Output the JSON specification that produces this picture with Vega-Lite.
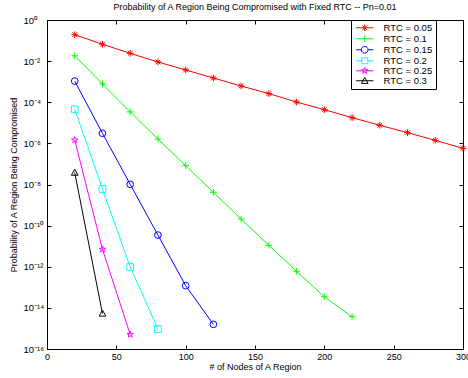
{
  "$schema": "https://vega.github.io/schema/vega-lite/v6.json",
  "width": 416,
  "height": 329,
  "autosize": {"type": "none"},
  "padding": {"left": 47, "top": 20, "right": 5, "bottom": 29},
  "title": {"text": "Probability of A Region Being Compromised with Fixed RTC -- Pn=0.01", "font": "Liberation Sans", "fontSize": 9, "fontWeight": "normal", "color": "black", "offset": 3},
  "config": {
    "view": {"stroke": "black", "strokeWidth": 1},
    "axis": {"grid": false, "domainColor": "black", "tickColor": "black", "labelColor": "black", "titleColor": "black", "labelFont": "Liberation Sans", "titleFont": "Liberation Sans", "labelFontSize": 9, "titleFontSize": 9, "titleFontWeight": "normal", "tickSize": -4, "domainWidth": 1},
    "point": {"filled": false, "strokeWidth": 1, "size": 45, "opacity": 1, "clip": false}
  },
  "data": {"values": [
    {"n": 20, "p": 0.193, "rtc": "RTC = 0.05"},
    {"n": 40, "p": 0.0661, "rtc": "RTC = 0.05"},
    {"n": 60, "p": 0.0240, "rtc": "RTC = 0.05"},
    {"n": 80, "p": 0.00912, "rtc": "RTC = 0.05"},
    {"n": 100, "p": 0.00372, "rtc": "RTC = 0.05"},
    {"n": 120, "p": 0.00151, "rtc": "RTC = 0.05"},
    {"n": 140, "p": 6.17e-4, "rtc": "RTC = 0.05"},
    {"n": 160, "p": 2.63e-4, "rtc": "RTC = 0.05"},
    {"n": 180, "p": 1.02e-4, "rtc": "RTC = 0.05"},
    {"n": 200, "p": 4.37e-5, "rtc": "RTC = 0.05"},
    {"n": 220, "p": 1.78e-5, "rtc": "RTC = 0.05"},
    {"n": 240, "p": 7.59e-6, "rtc": "RTC = 0.05"},
    {"n": 260, "p": 3.31e-6, "rtc": "RTC = 0.05"},
    {"n": 280, "p": 1.41e-6, "rtc": "RTC = 0.05"},
    {"n": 300, "p": 5.75e-7, "rtc": "RTC = 0.05"},
    {"n": 20, "p": 0.0182, "rtc": "RTC = 0.1"},
    {"n": 40, "p": 7.76e-4, "rtc": "RTC = 0.1"},
    {"n": 60, "p": 3.39e-5, "rtc": "RTC = 0.1"},
    {"n": 80, "p": 1.62e-6, "rtc": "RTC = 0.1"},
    {"n": 100, "p": 8.32e-8, "rtc": "RTC = 0.1"},
    {"n": 120, "p": 4.17e-9, "rtc": "RTC = 0.1"},
    {"n": 140, "p": 2.09e-10, "rtc": "RTC = 0.1"},
    {"n": 160, "p": 1.10e-11, "rtc": "RTC = 0.1"},
    {"n": 180, "p": 6.03e-13, "rtc": "RTC = 0.1"},
    {"n": 200, "p": 3.47e-14, "rtc": "RTC = 0.1"},
    {"n": 220, "p": 3.7e-15, "rtc": "RTC = 0.1"},
    {"n": 20, "p": 1.07e-3, "rtc": "RTC = 0.15"},
    {"n": 40, "p": 3.09e-6, "rtc": "RTC = 0.15"},
    {"n": 60, "p": 1.02e-8, "rtc": "RTC = 0.15"},
    {"n": 80, "p": 3.47e-11, "rtc": "RTC = 0.15"},
    {"n": 100, "p": 1.2e-13, "rtc": "RTC = 0.15"},
    {"n": 120, "p": 1.58e-15, "rtc": "RTC = 0.15"},
    {"n": 20, "p": 4.57e-5, "rtc": "RTC = 0.2"},
    {"n": 40, "p": 6.03e-9, "rtc": "RTC = 0.2"},
    {"n": 60, "p": 9.77e-13, "rtc": "RTC = 0.2"},
    {"n": 80, "p": 9.3e-16, "rtc": "RTC = 0.2"},
    {"n": 20, "p": 1.45e-6, "rtc": "RTC = 0.25"},
    {"n": 40, "p": 7.08e-12, "rtc": "RTC = 0.25"},
    {"n": 60, "p": 5.1e-16, "rtc": "RTC = 0.25"},
    {"n": 20, "p": 3.8e-8, "rtc": "RTC = 0.3"},
    {"n": 40, "p": 5.37e-15, "rtc": "RTC = 0.3"}
  ]},
  "encoding": {
    "x": {"field": "n", "type": "quantitative", "scale": {"domain": [0, 300], "nice": false}},
    "y": {"field": "p", "type": "quantitative", "scale": {"type": "log", "domain": [1e-16, 1], "nice": false}},
    "color": {"field": "rtc", "type": "nominal", "sort": null, "legend": null,
      "scale": {"domain": ["RTC = 0.05", "RTC = 0.1", "RTC = 0.15", "RTC = 0.2", "RTC = 0.25", "RTC = 0.3"], "range": ["#ff0000", "#00ff00", "#0000ff", "#00ffff", "#ff00ff", "#000000"]}}
  },
  "layer": [
    {
      "mark": {"type": "line", "strokeWidth": 1, "clip": false},
      "encoding": {
        "x": {"field": "n", "type": "quantitative", "axis": {"values": [0, 50, 100, 150, 200, 250, 300], "title": "# of Nodes of A Region", "labelPadding": 7, "titlePadding": 1, "labelFlush": false}},
        "y": {"field": "p", "type": "quantitative", "axis": {"values": [1, 1e-2, 1e-4, 1e-6, 1e-8, 1e-10, 1e-12, 1e-14, 1e-16], "title": "Probability of A Region Being Compromised", "labelAlign": "left", "labelPadding": 28, "titlePadding": 5, "labelFlush": false, "labelFontSize": 9.5, "labelExpr": "'10' + (datum.value >= 0.5 ? '⁰' : '⁻' + ['','¹','²','³','⁴','⁵','⁶','⁷','⁸','⁹','¹⁰','¹¹','¹²','¹³','¹⁴','¹⁵','¹⁶'][round(-log(datum.value)/LN10)])"}},
        "color": {"field": "rtc", "type": "nominal", "sort": null,
          "legend": {"orient": "none", "legendX": 304, "legendY": 0, "title": null, "strokeColor": "black", "fillColor": "white", "padding": 3, "labelFont": "Liberation Sans", "labelFontSize": 9.5, "labelColor": "black", "symbolSize": 44, "symbolStrokeWidth": 1, "rowPadding": -1, "symbolOffset": 6, "labelOffset": 14,
            "encode": {"symbols": {"update": {"shape": {"signal": "datum.value == 'RTC = 0.05' ? 'M-2.6,0H2.6M0,-1V1M-0.7,-0.7L0.7,0.7M-0.7,0.7L0.7,-0.7' : datum.value == 'RTC = 0.1' ? 'M-2.6,0H2.6M0,-1V1' : datum.value == 'RTC = 0.15' ? 'M-2.6,0H-1M1,0H2.6M1,0A1,1,0,1,1,-1,0A1,1,0,1,1,1,0' : datum.value == 'RTC = 0.2' ? 'M-2.6,0H-0.9M0.9,0H2.6M-0.9,-0.9H0.9V0.9H-0.9Z' : datum.value == 'RTC = 0.25' ? 'M-2.6,0H2.6M0,-1L0.2245,-0.309L0.951,-0.309L0.363,0.118L0.588,0.809L0,0.382L-0.588,0.809L-0.363,0.118L-0.951,-0.309L-0.2245,-0.309Z' : 'M-2.6,0H2.6M0,-1L1,0.8H-1Z'"}, "fill": {"value": "transparent"}, "strokeWidth": {"value": 1}}}}
          }
        }
      }
    },
    {
      "transform": [{"filter": "datum.rtc == 'RTC = 0.05'"}],
      "mark": {"type": "point", "shape": "M-1,0H1M0,-1V1M-0.7,-0.7L0.7,0.7M-0.7,0.7L0.7,-0.7"},
      "encoding": {
        "x": {"field": "n", "type": "quantitative", "axis": {"orient": "top", "values": [0, 50, 100, 150, 200, 250, 300], "labels": false, "title": null}},
        "y": {"field": "p", "type": "quantitative", "axis": {"orient": "right", "values": [1, 1e-2, 1e-4, 1e-6, 1e-8, 1e-10, 1e-12, 1e-14, 1e-16], "labels": false, "title": null}}
      }
    },
    {
      "transform": [{"filter": "datum.rtc == 'RTC = 0.1'"}],
      "mark": {"type": "point", "shape": "M-1,0H1M0,-1V1"},
      "encoding": {"x": {"field": "n", "type": "quantitative", "axis": null}, "y": {"field": "p", "type": "quantitative", "axis": null}}
    },
    {
      "transform": [{"filter": "datum.rtc == 'RTC = 0.15'"}],
      "mark": {"type": "point", "shape": "circle"},
      "encoding": {"x": {"field": "n", "type": "quantitative", "axis": null}, "y": {"field": "p", "type": "quantitative", "axis": null}}
    },
    {
      "transform": [{"filter": "datum.rtc == 'RTC = 0.2'"}],
      "mark": {"type": "point", "shape": "square"},
      "encoding": {"x": {"field": "n", "type": "quantitative", "axis": null}, "y": {"field": "p", "type": "quantitative", "axis": null}}
    },
    {
      "transform": [{"filter": "datum.rtc == 'RTC = 0.25'"}],
      "mark": {"type": "point", "shape": "M0,-1L0.2245,-0.309L0.951,-0.309L0.363,0.118L0.588,0.809L0,0.382L-0.588,0.809L-0.363,0.118L-0.951,-0.309L-0.2245,-0.309Z"},
      "encoding": {"x": {"field": "n", "type": "quantitative", "axis": null}, "y": {"field": "p", "type": "quantitative", "axis": null}}
    },
    {
      "transform": [{"filter": "datum.rtc == 'RTC = 0.3'"}],
      "mark": {"type": "point", "shape": "M0,-1L1,0.8H-1Z"},
      "encoding": {"x": {"field": "n", "type": "quantitative", "axis": null}, "y": {"field": "p", "type": "quantitative", "axis": null}}
    }
  ],
  "resolve": {"axis": {"x": "independent", "y": "independent"}}
}
